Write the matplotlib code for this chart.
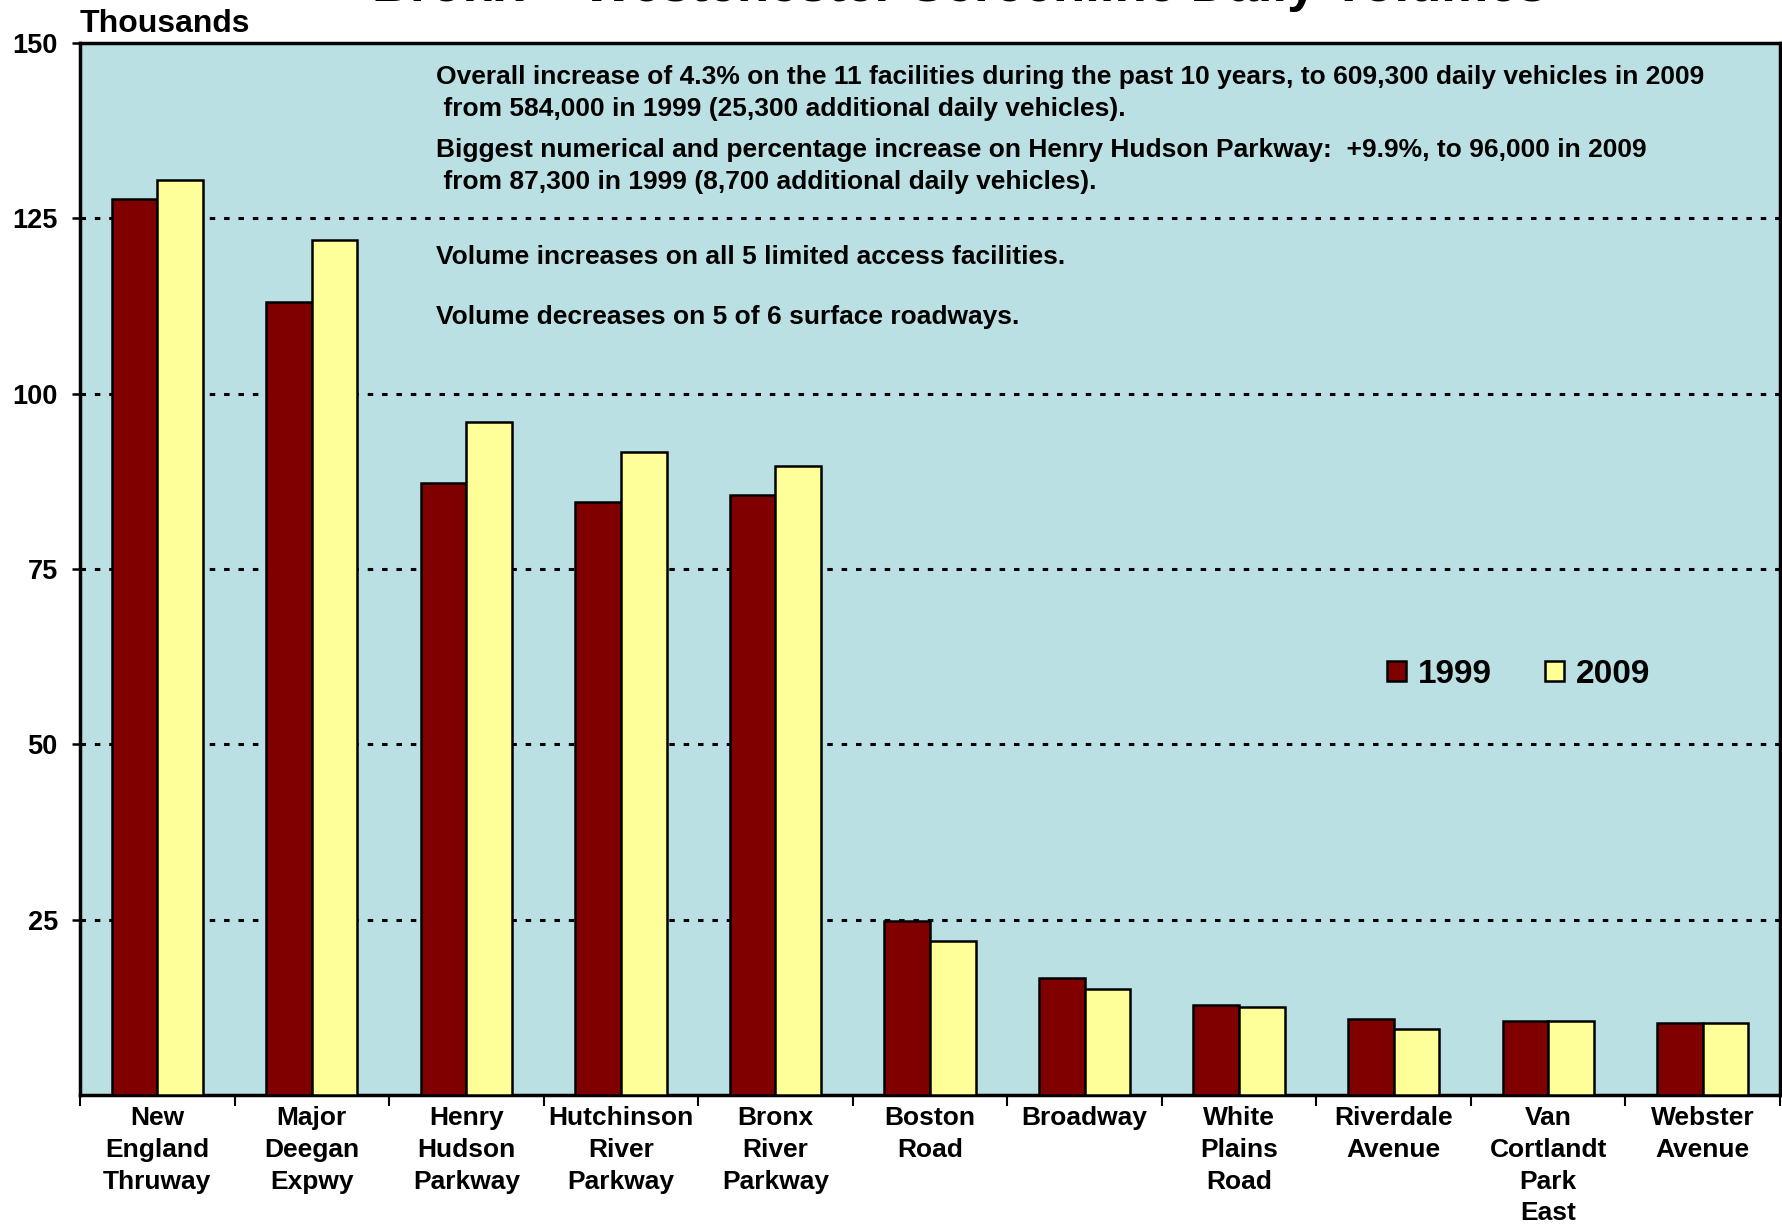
import matplotlib.pyplot as plt
import numpy as np

plt.rcParams['font.family'] = ['Liberation Sans', 'DejaVu Sans']
plt.rcParams['font.weight'] = 'bold'

facilities = ['New\nEngland\nThruway', 'Major\nDeegan\nExpwy', 'Henry\nHudson\nParkway',
              'Hutchinson\nRiver\nParkway', 'Bronx\nRiver\nParkway', 'Boston\nRoad',
              'Broadway', 'White\nPlains\nRoad', 'Riverdale\nAvenue',
              'Van\nCortlandt\nPark\nEast', 'Webster\nAvenue']
vol_1999 = [127.8, 113.0, 87.3, 84.6, 85.5, 24.8, 16.7, 12.8, 10.9, 10.5, 10.2]
vol_2009 = [130.4, 121.9, 96.0, 91.7, 89.7, 21.9, 15.1, 12.5, 9.4, 10.5, 10.2]
y_ticks = [25, 50, 75, 100, 125, 150]

notes = [
    "Overall increase of 4.3% on the 11 facilities during the past 10 years, to 609,300 daily vehicles in 2009",
    " from 584,000 in 1999 (25,300 additional daily vehicles).",
    "Biggest numerical and percentage increase on Henry Hudson Parkway:  +9.9%, to 96,000 in 2009",
    " from 87,300 in 1999 (8,700 additional daily vehicles).",
    "Volume increases on all 5 limited access facilities.",
    "Volume decreases on 5 of 6 surface roadways.",
]
note_y = [0.9676, 0.9373, 0.8984, 0.8681, 0.7968, 0.7395]

c1999 = '#800000'
c2009 = '#FFFF99'
bg = '#BBE0E3'

fig = plt.figure(figsize=(17.83, 12.27), dpi=100)
ax = fig.add_axes([0.0449, 0.1076, 0.9534, 0.8574])
ax.set_facecolor(bg)

x = np.arange(len(facilities))
w = 0.295
ax.bar(x - w / 2, vol_1999, w, color=c1999, edgecolor='black', linewidth=1.8, label='1999', zorder=3)
ax.bar(x + w / 2, vol_2009, w, color=c2009, edgecolor='black', linewidth=1.8, label='2009', zorder=3)

ax.set_xlim(-0.5, len(facilities) - 0.5)
ax.set_ylim(0, 150)

# y axis: ticks and dotted gridlines
ax.set_yticks(y_ticks)
ax.set_yticklabels([str(t) for t in y_ticks], fontsize=19.5, fontweight='bold')
ax.tick_params(axis='y', direction='out', length=6, width=1.8, pad=10)
for t in y_ticks[:-1]:
    ax.axhline(t, color='black', linestyle=(0, (1.8, 2.9)), linewidth=2.2, zorder=1)

# x axis: ticks at category boundaries, labels drawn per line
ax.set_xticks(np.arange(len(facilities) + 1) - 0.5)
ax.set_xticklabels([])
ax.tick_params(axis='x', direction='out', length=8, width=1.5)
for i, name in enumerate(facilities):
    for j, line in enumerate(name.split('\n')):
        ax.annotate(line, xy=(i, 0), xycoords='data', xytext=(0, -16.5 - 22.9 * j),
                    textcoords='offset points', ha='center', va='center',
                    fontsize=19, fontweight='bold')

for s in ax.spines.values():
    s.set_linewidth(2.5)
    s.set_color('black')

for y, n in zip(note_y, notes):
    ax.text(0.2094, y, n, transform=ax.transAxes, ha='left', va='center', fontsize=19,
            fontweight='bold')

ax.legend(loc='center left', bbox_to_anchor=(0.751, 0.40), ncol=2, frameon=False,
          handlelength=0.58, handleheight=0.58, handletextpad=0.35,
          columnspacing=1.6, prop={'weight': 'bold', 'size': 24})

fig.text(0.0449, 0.974, 'Thousands', ha='left', va='baseline', fontsize=23, fontweight='bold')
fig.text(0.538, 0.999, 'Bronx \u2013 Westchester Screenline Daily Volumes', ha='center',
         va='baseline', fontsize=38, fontweight='bold')

fig.savefig('out.png', dpi=100)
